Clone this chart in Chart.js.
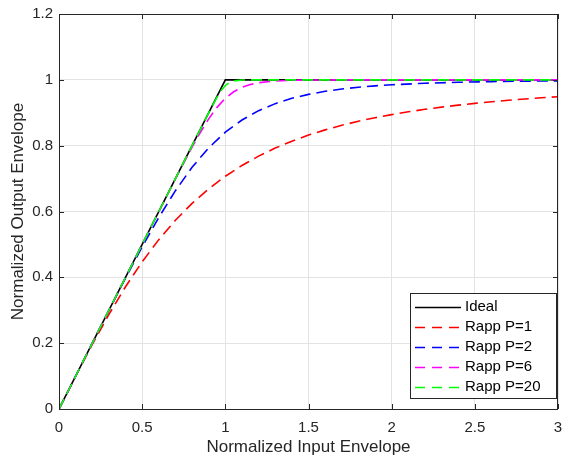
<!DOCTYPE html>
<html>
<head>
<meta charset="utf-8">
<script src="https://cdn.jsdelivr.net/npm/chart.js@4.4.1/dist/chart.umd.min.js"></script>
<style>
  html, body { margin: 0; padding: 0; background: #fff; }
</style>
</head>
<body>
<canvas id="grafico" width="563" height="455"></canvas>
<script>
// dados
const xTicks = [0, 0.5, 1, 1.5, 2, 2.5, 3];
const yTicks = [0, 0.2, 0.4, 0.6, 0.8, 1, 1.2];

const idealX = [0, 1, 3];
const idealY = [0, 1, 1];

const p1X = [0, 0.1, 0.2, 0.3, 0.4, 0.5, 0.6, 0.7, 0.8, 0.9, 1.0, 1.1, 1.2, 1.3, 1.4, 1.5,
             1.6, 1.7, 1.8, 1.9, 2.0, 2.1, 2.2, 2.3, 2.4, 2.5, 2.6, 2.7, 2.8, 2.9, 3.0];
const p1Y = [0, 0.0995, 0.1961, 0.2873, 0.3714, 0.4472, 0.5145, 0.5735, 0.6247, 0.6690, 0.7071,
             0.7399, 0.7682, 0.7926, 0.8137, 0.8321, 0.8480, 0.8619, 0.8742, 0.8849, 0.8944,
             0.9029, 0.9104, 0.9171, 0.9231, 0.9285, 0.9333, 0.9378, 0.9417, 0.9454, 0.9487];

const p2X = [0, 0.1, 0.2, 0.3, 0.4, 0.5, 0.6, 0.7, 0.8, 0.9, 1.0, 1.1, 1.2, 1.3, 1.4, 1.5,
             1.6, 1.7, 1.8, 1.9, 2.0, 2.2, 2.4, 2.6, 2.8, 3.0];
const p2Y = [0, 0.1000, 0.1999, 0.2994, 0.3975, 0.4925, 0.5820, 0.6633, 0.7342, 0.7934, 0.8409,
             0.8780, 0.9063, 0.9277, 0.9438, 0.9559, 0.9651, 0.9722, 0.9776, 0.9817, 0.9850,
             0.9897, 0.9926, 0.9946, 0.9960, 0.9969];

const p6X = [0, 0.5, 0.6, 0.7, 0.8, 0.85, 0.9, 0.95, 1.0, 1.05, 1.1, 1.15, 1.2, 1.3, 1.4, 1.5, 1.7, 2.0, 3.0];
const p6Y = [0, 0.5, 0.5999, 0.6992, 0.7956, 0.8406, 0.8815, 0.9164, 0.9439, 0.9638, 0.9772,
             0.9858, 0.9912, 0.9965, 0.9985, 0.9994, 0.9999, 1.0, 1.0];

const p20X = [0, 0.8, 0.9, 0.95, 0.975, 1.0, 1.025, 1.05, 1.1, 1.2, 3.0];
const p20Y = [0, 0.8, 0.8997, 0.9471, 0.9675, 0.9828, 0.9921, 0.9967, 0.9995, 1.0, 1.0];

const rotulos = ["Ideal", "Rapp P=1", "Rapp P=2", "Rapp P=6", "Rapp P=20"];
const cores = ["#000000", "#ff0000", "#0000ff", "#ff00ff", "#00ff00"];

function pontos(xs, ys) {
    return xs.map(function (x, i) { return { x: x, y: ys[i] }; });
}

function rotuloTick(v) {
    return String(Math.round(v * 10) / 10);
}

const corEixo = "#262626";
const fonte = '"Liberation Sans", Arial, Helvetica, sans-serif';
Chart.defaults.font.family = fonte;
Chart.defaults.color = corEixo;

// moldura, marcas para dentro e legenda
const moldura = {
    id: "moldura",
    afterDraw: function (chart) {
        const ctx = chart.ctx;
        const a = chart.chartArea;
        const sx = chart.scales.x, sy = chart.scales.y;
        ctx.save();
        ctx.strokeStyle = corEixo;
        ctx.lineWidth = 1;
        ctx.beginPath();
        xTicks.forEach(function (v) {
            const px = Math.round(sx.getPixelForValue(v)) + 0.5;
            ctx.moveTo(px, a.bottom); ctx.lineTo(px, a.bottom - 5);
            ctx.moveTo(px, a.top); ctx.lineTo(px, a.top + 5);
        });
        yTicks.forEach(function (v) {
            const py = Math.round(sy.getPixelForValue(v)) + 0.5;
            ctx.moveTo(a.left, py); ctx.lineTo(a.left + 5, py);
            ctx.moveTo(a.right, py); ctx.lineTo(a.right - 5, py);
        });
        ctx.stroke();
        ctx.strokeRect(a.left + 0.5, a.top + 0.5, a.right - a.left - 1, a.bottom - a.top);

        // legenda
        const lx = a.right - 148, ly = a.bottom - 116, lw = 146, lh = 105;
        ctx.fillStyle = "#ffffff";
        ctx.fillRect(lx, ly, lw, lh);
        ctx.strokeStyle = corEixo;
        ctx.strokeRect(lx + 0.5, ly + 0.5, lw, lh);
        ctx.font = "15px " + fonte;
        ctx.textBaseline = "middle";
        rotulos.forEach(function (nome, i) {
            const y = ly + 14 + i * 20;
            ctx.strokeStyle = cores[i];
            ctx.lineWidth = 1.3;
            ctx.setLineDash(i === 0 ? [] : [10, 7]);
            ctx.beginPath();
            ctx.moveTo(lx + 5, y + 0.5);
            ctx.lineTo(lx + 51, y + 0.5);
            ctx.stroke();
            ctx.setLineDash([]);
            ctx.fillStyle = "#000000";
            ctx.fillText(nome, lx + 55, y);
        });
        ctx.restore();
    }
};

const series = [
    pontos(idealX, idealY),
    pontos(p1X, p1Y),
    pontos(p2X, p2Y),
    pontos(p6X, p6Y),
    pontos(p20X, p20Y)
];

new Chart(document.getElementById("grafico"), {
    type: "line",
    data: {
        datasets: series.map(function (d, i) {
            return {
                label: rotulos[i],
                data: d,
                borderColor: cores[i],
                borderWidth: 1.6,
                borderDash: i === 0 ? [] : [11, 6],
                pointRadius: 0,
                tension: 0,
                order: 5 - i
            };
        })
    },
    options: {
        responsive: false,
        animation: false,
        layout: { padding: { top: 14, right: 5, left: 0, bottom: 0 } },
        plugins: { legend: { display: false }, tooltip: { enabled: false } },
        scales: {
            x: {
                type: "linear",
                min: 0, max: 3,
                afterFit: function (s) { s.height = 46; s.paddingLeft = 0; s.paddingRight = 0; },
                afterBuildTicks: function (s) { s.ticks = xTicks.map(function (v) { return { value: v }; }); },
                ticks: { font: { size: 15 }, padding: 10, maxRotation: 0, callback: rotuloTick },
                grid: { color: "#e3e3e3", drawTicks: false },
                border: { display: false },
                title: { display: true, text: "Normalized Input Envelope", font: { size: 17 }, padding: { top: 0, bottom: -3 } }
            },
            y: {
                min: 0, max: 1.2,
                afterFit: function (s) { s.width = 59; s.paddingTop = 0; s.paddingBottom = 0; },
                afterBuildTicks: function (s) { s.ticks = yTicks.map(function (v) { return { value: v }; }); },
                ticks: { font: { size: 15 }, padding: 6, callback: rotuloTick },
                grid: { color: "#e3e3e3", drawTicks: false },
                border: { display: false },
                title: { display: true, text: "Normalized Output Envelope", font: { size: 17 }, padding: { top: 8, bottom: 0 } }
            }
        }
    },
    plugins: [moldura]
});
</script>
</body>
</html>
